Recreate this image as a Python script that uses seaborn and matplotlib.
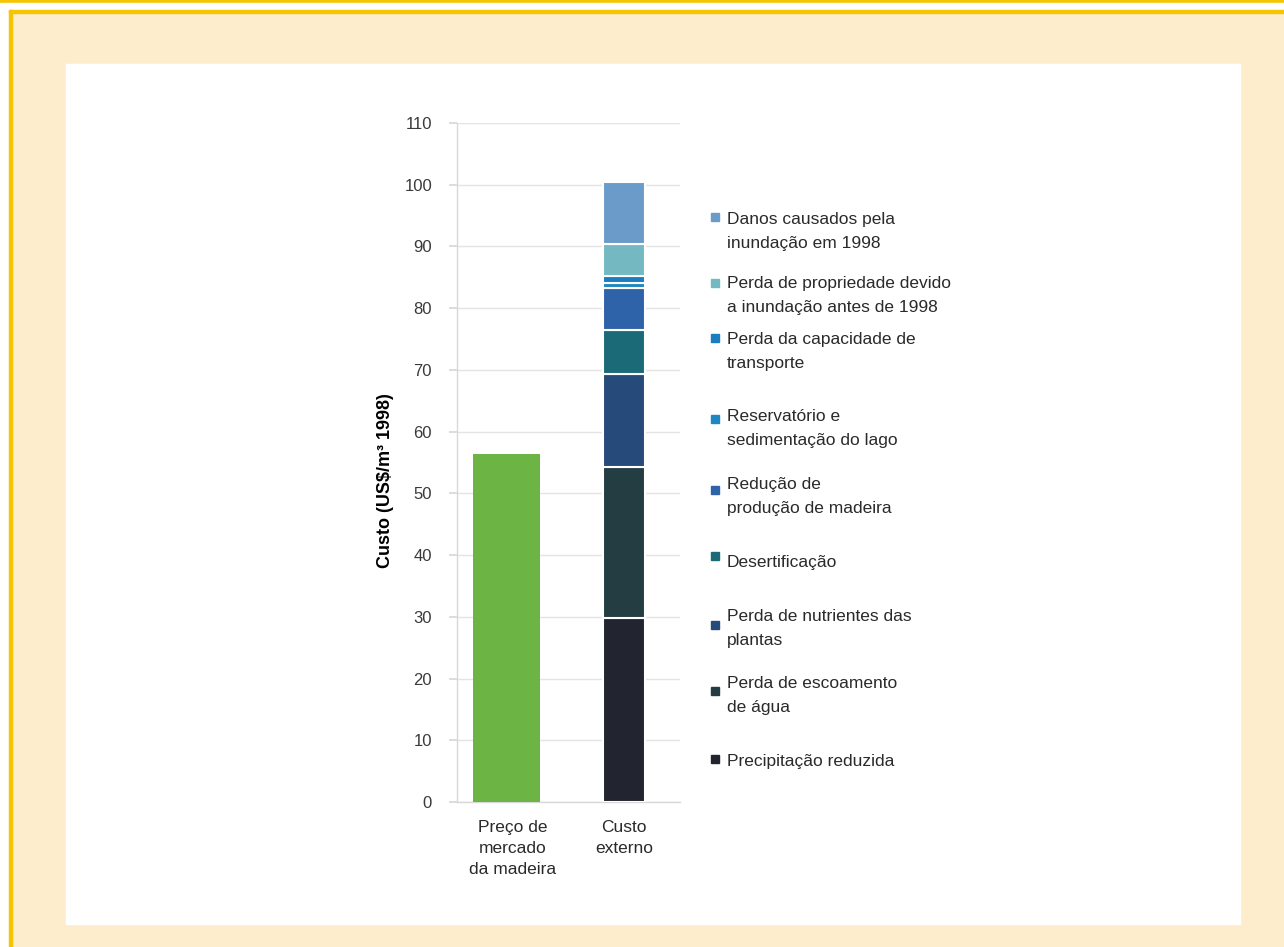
import matplotlib
matplotlib.use("Agg")
import matplotlib.pyplot as plt
import seaborn as sns
import pandas as pd
from matplotlib.patches import Rectangle

# ---- data ----
categories = ["Preço de\nmercado\nda madeira", "Custo\nexterno"]
market_price = [56.3]
segment_labels = [
    "Precipitação reduzida",
    "Perda de escoamento\nde água",
    "Perda de nutrientes das\nplantas",
    "Desertificação",
    "Redução de\nprodução de madeira",
    "Reservatório e\nsedimentação do lago",
    "Perda da capacidade de\ntransporte",
    "Perda de propriedade devido\na inundação antes de 1998",
    "Danos causados pela\ninundação em 1998",
]
segment_values = [29.8, 24.5, 15.0, 7.2, 6.8, 0.8, 1.1, 5.2, 10.0]
segment_colors = ["#22242f", "#233d42", "#264b7b", "#1b6a78", "#2e63a9",
                  "#1b88c2", "#1a7dbd", "#74b9c2", "#6a9bc9"]
green = "#6cb545"
yticks = list(range(0, 111, 10))

# legend layout (figure pixel y from top): text first-line centre, marker centre
legend_text_y = [760, 682, 615, 561, 483, 415, 338, 282, 218]
legend_mark_y = [759, 691, 625, 556, 490, 419, 338, 283, 217]

W, H = 1284, 947
sns.set_theme(style="white")
plt.rcParams["font.family"] = ["Liberation Sans", "DejaVu Sans"]

fig = plt.figure(figsize=(W / 100, H / 100), dpi=100)
fig.patch.set_facecolor("#fdedcd")

def fx(px):
    return px / W

def fy(py):
    return 1 - py / H

# frame decorations
fig.add_artist(Rectangle((0, fy(3)), 1, 3 / H, transform=fig.transFigure,
                         color="#f4c500", zorder=0))
fig.add_artist(Rectangle((0, fy(10)), 1, 7 / H, transform=fig.transFigure,
                         color="white", zorder=0))
fig.add_artist(Rectangle((fx(0), 0), 9 / W, fy(10), transform=fig.transFigure,
                         color="white", zorder=0))
fig.add_artist(Rectangle((fx(9), fy(13)), 1, 3 / H, transform=fig.transFigure,
                         color="#f4c500", zorder=0))
fig.add_artist(Rectangle((fx(9), 0), 3 / W, fy(10), transform=fig.transFigure,
                         color="#f4c500", zorder=0))
fig.add_artist(Rectangle((fx(66), fy(924)), (1240 - 66) / W, (924 - 64) / H,
                         transform=fig.transFigure, color="white", zorder=0))

ax = fig.add_axes([fx(457), fy(802), fx(680) - fx(457), fy(123) - fy(802)])
ax.set_facecolor("none")

df = pd.DataFrame({"cat": [categories[0]], "val": market_price})
sns.barplot(data=df, x="cat", y="val", color=green, width=0.6, ax=ax,
            saturation=1, zorder=3, linewidth=0)
# nudge the market-price bar slightly left, as in the original layout
for p in ax.patches:
    p.set_x(p.get_x() - 0.06)

bottom = 0
for v, c in zip(segment_values, segment_colors):
    ax.bar(1, v, width=0.38, bottom=bottom, color=c, edgecolor="white",
           linewidth=1.5, zorder=3)
    bottom += v

ax.set_xlim(-0.5, 1.5)
ax.set_ylim(0, 110)
ax.set_yticks(yticks)
ax.set_yticklabels([str(t) for t in yticks], fontsize=12, color="#3a3a3a")
ax.set_xticks([0, 1])
ax.set_xticklabels(categories, fontsize=12.5, color="#2a2a2a", linespacing=1.5)
ax.set_xticks([-0.5, 0.5, 1.5], minor=True)
ax.tick_params(axis="x", which="major", length=0, pad=13)
ax.tick_params(axis="x", which="minor", length=5, color="#d8d8d8", direction="out")
ax.tick_params(axis="y", length=6, color="#d8d8d8", pad=12, left=True)
ax.grid(axis="y", color="#e4e4e4", linewidth=1, zorder=0)
for s in ["top", "right"]:
    ax.spines[s].set_visible(False)
for s in ["left", "bottom"]:
    ax.spines[s].set_color("#d8d8d8")
    ax.spines[s].set_linewidth(1)
ax.set_xlabel("")
ax.set_ylabel("Custo (US$/m³ 1998)", fontsize=13, fontweight="bold",
              color="black")
ax.yaxis.set_label_coords(-0.283, 0.474)

# legend
for lab, col, ty, my in zip(segment_labels, segment_colors, legend_text_y, legend_mark_y):
    fig.add_artist(Rectangle((fx(711), fy(my + 4)), 8 / W, 8 / H,
                             transform=fig.transFigure, color=col, zorder=5))
    fig.text(fx(727), fy(ty - 6), lab, fontsize=12.5, color="#2a2a2a",
             va="top", ha="left", linespacing=1.75)

fig.savefig("out.png", dpi=100, facecolor=fig.get_facecolor())
